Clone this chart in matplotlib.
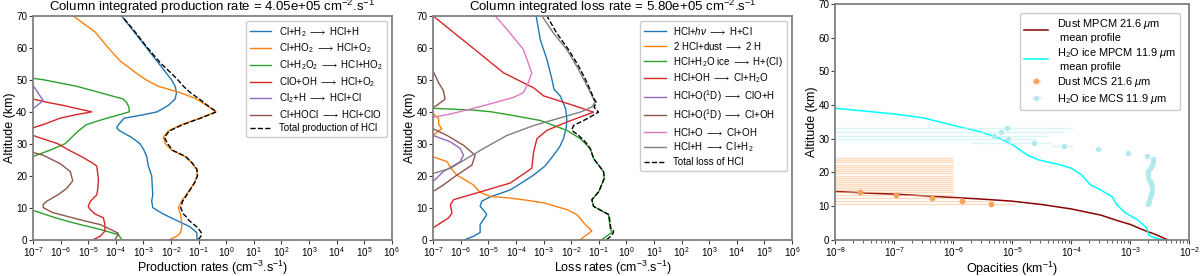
import matplotlib
matplotlib.use("Agg")
import matplotlib.pyplot as plt
import numpy as np

plt.rcParams['font.family'] = ['Liberation Sans', 'DejaVu Sans']
plt.rcParams['mathtext.fontset'] = 'custom'
plt.rcParams['mathtext.rm'] = 'Liberation Sans'
plt.rcParams['mathtext.it'] = 'Liberation Sans:italic'
plt.rcParams['mathtext.bf'] = 'Liberation Sans:bold'

# ---- Production of HCl (log10 of rate, cm-3 s-1) ----
prod_cl_h2_alt = [0, 1, 2.2, 4, 6, 8, 10, 12, 14, 17, 20, 23, 26, 28, 30, 32, 34, 35, 36, 37, 38, 39,
                  40, 42, 44, 46, 48, 50, 55, 60, 65, 70]
prod_cl_h2 = [-1.05, -1.06, -1.07, -1.31, -1.80, -2.28, -2.66, -2.70, -2.66, -2.68, -2.70, -2.82, -2.88,
              -2.98, -3.12, -3.43, -3.85, -3.97, -3.90, -3.80, -3.70, -3.05, -2.50, -2.10, -1.85, -1.80,
              -1.85, -1.98, -2.43, -2.88, -3.33, -3.79]

prod_cl_ho2_alt = [0, 1, 2, 4, 6, 8, 9, 10, 12, 15, 18, 20, 22, 24, 26, 28, 30, 32, 34, 36, 38, 40, 42,
                   44, 46, 48, 50, 52, 56, 60, 65, 70]
prod_cl_ho2 = [-2.04, -1.80, -1.66, -1.61, -1.62, -1.66, -1.70, -1.73, -1.62, -1.37, -1.14, -1.05, -1.07,
               -1.25, -1.49, -1.98, -2.20, -2.28, -2.10, -1.61, -0.95, -0.37, -0.71, -1.07, -1.67, -2.46,
               -2.90, -3.24, -3.85, -4.27, -4.75, -5.54]

prod_cl_h2o2_alt = [0, 1.5, 3.2, 4.5, 5.8, 7, 8, 9, 9.5, 25.5, 26, 28, 30, 32, 34, 36, 37, 38, 39, 40,
                    41, 42, 43, 44, 46, 48, 50, 50.5, 51]
prod_cl_h2o2 = [-3.79, -3.90, -4.57, -5.20, -5.78, -6.25, -6.60, -6.95, -7.3, -7.3, -7.0, -6.38, -5.84,
                -5.60, -5.36, -5.06, -4.70, -4.33, -3.90, -3.51, -3.52, -3.55, -3.62, -3.73, -4.57,
                -5.42, -6.60, -7.0, -7.3]

prod_clo_oh_alt = [0, 1, 2.7, 5, 6.8, 8, 9.4, 10.4, 12, 14, 16, 19, 23, 24, 26, 28, 30, 31, 32, 32.6,
                   33, 34.5, 35, 36, 38, 39, 40, 41, 42, 43, 44, 44.5]
prod_clo_oh = [-4.81, -4.57, -4.39, -4.40, -4.45, -4.75, -4.93, -5.00, -4.92, -4.69, -4.65, -4.63, -4.69,
               -4.85, -5.25, -5.70, -6.10, -6.45, -6.80, -7.0, -7.3, -7.3, -7.0, -6.63, -6.02, -5.50,
               -4.87, -5.40, -5.90, -6.50, -7.0, -7.3]

prod_cl2_h_alt = [40.3, 41, 43.5, 48.3, 49]
prod_cl2_h = [-7.3, -7.0, -6.63, -7.0, -7.3]

prod_cl_hocl_alt = [0, 1, 2, 3, 4.7, 6, 7.3, 8.5, 10, 11, 12, 14, 16, 18.4, 21.3, 23.8, 26.4, 27.3, 27.8]
prod_cl_hocl = [-4.03, -3.95, -3.91, -4.15, -4.57, -5.20, -5.78, -6.30, -6.63, -6.63, -6.50, -6.10,
                -5.78, -5.56, -5.65, -6.02, -6.63, -7.0, -7.3]

prod_total_alt = [0, 1, 2, 3, 4, 6, 7, 8, 10, 12, 15, 18, 20, 22, 24, 26, 28, 30, 32, 34, 36, 38, 40,
                  42, 44, 46, 48, 50, 52, 55, 60, 65, 70]
prod_total = [-1.01, -0.92, -0.89, -0.97, -1.07, -1.35, -1.43, -1.55, -1.65, -1.58, -1.35, -1.13, -1.04,
              -1.06, -1.23, -1.47, -1.95, -2.12, -2.24, -2.06, -1.57, -0.93, -0.35, -0.68, -0.97, -1.30,
              -1.55, -1.75, -1.98, -2.35, -2.85, -3.30, -3.78]

# ---- Loss of HCl ----
loss_hv_alt = [0, 1, 2.2, 4.7, 6, 7.8, 9, 10.4, 12, 13.4, 14.5, 15.6, 18, 20.2, 23, 26.4, 29, 31.6, 35,
               37.8, 40.9, 43, 45, 47, 50.2, 56.4, 62.6, 70]
loss_hv = [-5.84, -5.55, -5.30, -5.30, -5.20, -5.06, -5.15, -5.30, -5.24, -4.93, -4.55, -4.20, -3.75,
           -3.36, -2.95, -2.64, -2.42, -2.28, -2.18, -2.16, -2.20, -2.30, -2.40, -2.62, -2.70, -2.88,
           -3.12, -3.27]

loss_dust_alt = [0, 2.7, 4.7, 7.8, 9.4, 10.5, 11.5, 12.3, 13, 13.5, 14.8, 17.1, 20.2, 22.3, 24.4, 25.9,
                 26.5, 32, 32.6, 33.7, 34.7, 36, 37.8, 39.3, 40]
loss_dust = [-1.67, -1.25, -1.49, -1.79, -2.16, -2.60, -3.00, -3.60, -4.21, -4.93, -5.30, -5.54, -6.14,
             -6.35, -6.50, -7.0, -7.3, -7.3, -7.0, -6.85, -6.69, -6.80, -6.80, -6.98, -7.3]

loss_ice_alt = [0, 1.1, 2.2, 3.7, 7.8, 10.4, 12.5, 15, 19.2, 21.3, 25.4, 28.5, 31.6, 34.2, 37.3, 39,
                40, 40.5, 41.1, 41.6]
loss_ice = [-0.89, -0.71, -0.53, -0.59, -0.65, -1.19, -1.25, -1.00, -0.80, -0.83, -1.19, -1.31, -1.67,
            -2.16, -3.12, -4.21, -4.90, -5.50, -7.0, -7.3]

loss_oh_alt = [3.2, 3.7, 6.8, 8.3, 10.9, 12.5, 14.6, 17.7, 22.3, 27.5, 31.6, 34.2, 36.8, 39.9, 42, 45,
               47.5, 52.2, 61.5, 70]
loss_oh = [-7.3, -7.0, -6.44, -6.32, -6.38, -6.26, -5.42, -4.21, -3.43, -3.36, -3.24, -2.88, -2.16,
           -1.19, -1.92, -3.00, -3.36, -4.45, -5.78, -7.0]

loss_o1d_clo_alt = [17.5, 18.2, 21.3, 24.4, 26.4, 28.5, 30.6, 32.6, 33.2]
loss_o1d_clo = [-7.3, -7.0, -6.63, -6.02, -5.90, -6.02, -6.38, -7.0, -7.3]

loss_o1d_cl_alt = [14.5, 15.1, 17.1, 20.2, 23.3, 26.4, 29.5, 32.6, 34.7, 35.3, 40.9, 41.4, 42, 44,
                   46.6, 49.2, 52.7, 53.2]
loss_o1d_cl = [-7.3, -7.0, -6.63, -6.14, -5.60, -5.48, -5.90, -6.50, -7.0, -7.3, -7.3, -7.0, -6.87,
               -6.57, -6.63, -6.81, -7.0, -7.3]

loss_o_alt = [37.8, 38.3, 39.3, 41.9, 44.5, 46, 49.2, 52.2, 59.5, 64.6, 70]
loss_o = [-7.3, -7.0, -6.38, -5.18, -4.09, -3.73, -3.55, -3.43, -3.73, -4.21, -4.75]

loss_h_alt = [20.2, 20.7, 22.3, 25.4, 28.5, 32.6, 35.7, 37.8, 39.9, 41.5, 43, 44, 49.2, 54.3, 59.5,
              64.6, 70]
loss_h = [-7.3, -7.0, -6.38, -5.78, -5.18, -4.33, -3.36, -2.52, -1.67, -1.25, -1.13, -1.19, -1.49,
          -1.80, -2.16, -2.64, -3.06]

loss_total_alt = [0, 1.1, 2.2, 3, 3.7, 7.8, 10.4, 12.5, 15, 19.2, 21.3, 25.4, 28.5, 30.6, 32.6, 34.2,
                  35.7, 37.8, 39.9, 41.5, 43, 44, 49.2, 54.3, 59.5, 64.6, 70]
loss_total = [-0.72, -0.55, -0.47, -0.47, -0.57, -0.63, -1.19, -1.25, -1.00, -0.80, -0.83, -1.19,
              -1.31, -1.49, -1.73, -1.98, -1.92, -1.43, -1.01, -1.17, -1.09, -1.17, -1.43, -1.73,
              -2.10, -2.52, -2.88]

# ---- Opacities (km-1) ----
dust_mpcm_alt = [0, 1.4, 2.8, 4.5, 5.7, 7.25, 9.1, 10.4, 11.4, 12.0, 12.5, 13.0, 13.5, 13.8, 14.3]
dust_mpcm = [4.2e-3, 2.8e-3, 1.7e-3, 1.0e-3, 5.9e-4, 3.2e-4, 1.0e-4, 3.2e-5, 1.0e-5, 3.2e-6, 1.0e-6,
             3.2e-7, 1.0e-7, 3.5e-8, 1.0e-8]

ice_mpcm_alt = [0, 0.6, 1.4, 3.5, 6, 7.9, 10.4, 12.8, 14.8, 16.3, 19.2, 21.2, 22.2, 23.6, 25.1, 28,
                30, 32, 33.9, 36.1, 37.3, 39]
ice_mpcm = [3.5e-3, 2.5e-3, 2.05e-3, 1.9e-3, 1.3e-3, 8.3e-4, 5.9e-4, 4.9e-4, 3.1e-4, 2.1e-4, 1.5e-4,
            1.0e-4, 6.5e-5, 2.9e-5, 1.8e-5, 1.05e-5, 6.3e-6, 2.9e-6, 1.0e-6, 3.2e-7, 1.0e-7, 1.0e-8]

dust_mcs_alt = [24.1, 23.5, 22.9, 22.2, 21.6, 21.0, 20.3, 19.7, 19.0, 18.4, 17.7, 17.1, 16.5, 15.8,
                15.2, 14.6, 14.0, 13.1, 12.35, 11.4, 10.6]
dust_mcs = [0, 0, 0, 0, 0, 0, 0, 0, 0, 0, 0, 0, 0, 0, 0, 0, 2.6e-8, 1.07e-7, 4.4e-7, 1.4e-6, 4.3e-6]
dust_mcs_err = [1.0e-6] * 16 + [1.0e-6, 9.0e-7, 1.0e-6, 3.2e-6, 7.0e-6]

ice_mcs_alt = [33.1, 32.0, 30.9, 29.8, 28.8, 27.7, 26.8, 25.8, 24.9, 23.9, 23.1, 22.1, 21.4, 20.4,
               19.4, 18.4, 17.5, 16.5, 15.5, 14.5, 13.5, 12.6, 11.6, 10.6]
ice_mcs = [8.1e-6, 6.5e-6, 4.9e-6, 8.5e-6, 2.3e-5, 7.6e-5, 2.9e-4, 9.3e-4, 1.9e-3, 2.43e-3, 2.48e-3,
           2.34e-3, 2.19e-3, 2.04e-3, 2.0e-3, 2.04e-3, 2.14e-3, 2.24e-3, 2.34e-3, 2.34e-3, 2.29e-3,
           2.19e-3, 2.09e-3, 2.04e-3]
ice_mcs_err = [1.0e-4, 7.3e-5, 3.4e-5, 1.8e-5, 2.1e-5, 3.1e-5, 4.0e-5, 5.0e-6, 5.0e-6] + [5.0e-6] * 15

prod_labels = [r'Cl+H$_2$ $\longrightarrow$ HCl+H',
               r'Cl+HO$_2$ $\longrightarrow$ HCl+O$_2$',
               r'Cl+H$_2$O$_2$ $\longrightarrow$ HCl+HO$_2$',
               r'ClO+OH $\longrightarrow$ HCl+O$_2$',
               r'Cl$_2$+H $\longrightarrow$ HCl+Cl',
               r'Cl+HOCl $\longrightarrow$ HCl+ClO']
loss_labels = [r'HCl+$h\nu$ $\longrightarrow$ H+Cl',
               r'2 HCl+dust $\longrightarrow$ 2 H',
               r'HCl+H$_2$O ice $\longrightarrow$ H+(Cl)',
               r'HCl+OH $\longrightarrow$ Cl+H$_2$O',
               r'HCl+O($^1$D) $\longrightarrow$ ClO+H',
               r'HCl+O($^1$D) $\longrightarrow$ Cl+OH',
               r'HCl+O $\longrightarrow$ Cl+OH',
               r'HCl+H $\longrightarrow$ Cl+H$_2$']

rate_ticks = [10.0 ** k for k in range(-7, 7)]


def style_axes(ax, xlabel):
    for s in ax.spines.values():
        s.set_color('#808080')
        s.set_linewidth(1.3)
    ax.tick_params(labelsize=7.1, color='#404040', length=3, pad=1.2)
    ax.tick_params(which='minor', length=1.8, color='#404040')
    ax.set_ylim(0, 70)
    ax.set_yticks(range(0, 71, 10))
    ax.set_ylabel('Altitude (km)', fontsize=9, labelpad=0)
    ax.set_xlabel(xlabel, fontsize=9)
    ax.xaxis.set_label_coords(0.5, -0.084)


def rate_panel(ax, series, labels, total, total_label, title, xlabel):
    for i, ((alt, val), lab) in enumerate(zip(series, labels)):
        ax.plot(np.power(10.0, val), alt, color=f'C{i}', lw=1.0, label=lab)
    ax.plot(np.power(10.0, total[1]), total[0], 'k--', lw=1.0, label=total_label)
    ax.set_xscale('log')
    ax.set_xlim(1e-7, 1e6)
    ax.set_xticks(rate_ticks)
    ax.xaxis.set_minor_locator(matplotlib.ticker.NullLocator())
    style_axes(ax, xlabel)
    ax.set_title(title, fontsize=9.5, pad=2)
    ax.legend(loc='upper right', fontsize=7, labelspacing=0.3, handlelength=2.2,
              borderpad=0.4, framealpha=1, edgecolor='#cccccc', fancybox=True)


fig = plt.figure(figsize=(12, 2.76), dpi=100)
ax1 = fig.add_axes([0.0275, 0.132, 0.299, 0.810])
ax2 = fig.add_axes([0.361, 0.132, 0.299, 0.810])
ax3 = fig.add_axes([0.696, 0.132, 0.295, 0.854])

rate_panel(ax1,
           [(prod_cl_h2_alt, prod_cl_h2), (prod_cl_ho2_alt, prod_cl_ho2),
            (prod_cl_h2o2_alt, prod_cl_h2o2), (prod_clo_oh_alt, prod_clo_oh),
            (prod_cl2_h_alt, prod_cl2_h), (prod_cl_hocl_alt, prod_cl_hocl)],
           prod_labels, (prod_total_alt, prod_total), 'Total production of HCl',
           r'Column integrated production rate = 4.05e+05 cm$^{-2}$.s$^{-1}$',
           r'Production rates (cm$^{-3}$.s$^{-1}$)')

rate_panel(ax2,
           [(loss_hv_alt, loss_hv), (loss_dust_alt, loss_dust), (loss_ice_alt, loss_ice),
            (loss_oh_alt, loss_oh), (loss_o1d_clo_alt, loss_o1d_clo),
            (loss_o1d_cl_alt, loss_o1d_cl), (loss_o_alt, loss_o), (loss_h_alt, loss_h)],
           loss_labels, (loss_total_alt, loss_total), 'Total loss of HCl',
           r'Column integrated loss rate = 5.80e+05 cm$^{-2}$.s$^{-1}$',
           r'Loss rates (cm$^{-3}$.s$^{-1}$)')

# opacity panel
ax3.plot(dust_mpcm, dust_mpcm_alt, color='darkred', lw=1.1,
         label='Dust MPCM 21.6 $\\mu$m\n mean profile')
ax3.plot(ice_mpcm, ice_mpcm_alt, color='cyan', lw=1.1,
         label='H$_2$O ice MPCM 11.9 $\\mu$m\n mean profile')
ax3.errorbar(dust_mcs, dust_mcs_alt, xerr=dust_mcs_err, fmt='o', ms=3.2, color='#f7a35c',
             ecolor=(0.98, 0.75, 0.55, 0.55), elinewidth=1.0, label='Dust MCS 21.6 $\\mu$m')
ax3.errorbar(ice_mcs, ice_mcs_alt, xerr=ice_mcs_err, fmt='o', ms=3.0, color=(0.68, 0.91, 0.92, 0.85),
             ecolor=(0.75, 0.94, 0.95, 0.6), elinewidth=1.0, label='H$_2$O ice MCS 11.9 $\\mu$m')
ax3.set_xscale('log')
ax3.set_xlim(1e-8, 1e-2)
style_axes(ax3, 'Opacities (km$^{-1}$)')
ax3.legend(loc='upper right', fontsize=7.9, labelspacing=0.3, handlelength=2.2,
           borderpad=0.4, borderaxespad=0.8, framealpha=1, edgecolor='#cccccc')

fig.savefig('out.png', dpi=100)
